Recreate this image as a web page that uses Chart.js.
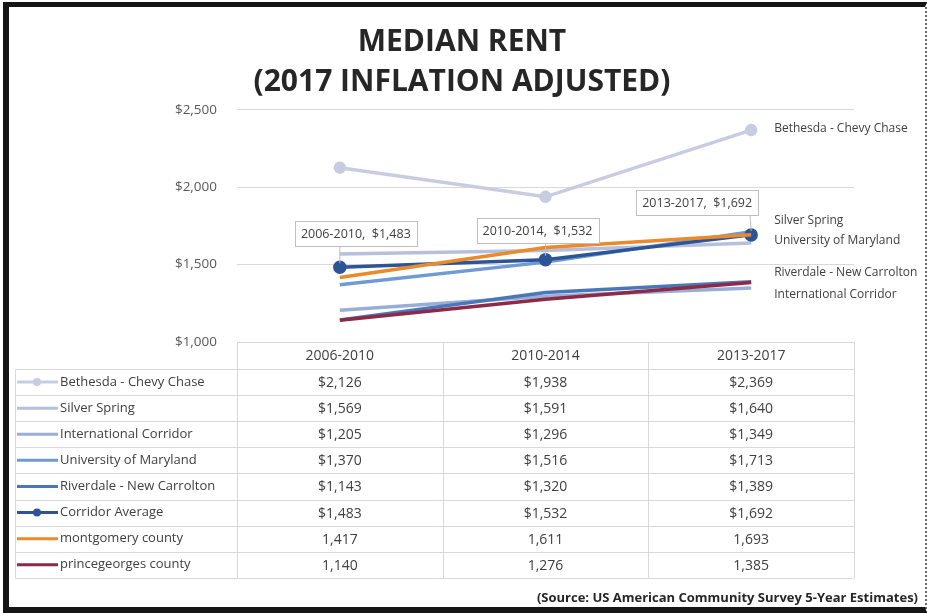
<!DOCTYPE html>
<html>
<head>
<meta charset="utf-8">
<title>Median Rent</title>
<script src="https://cdn.jsdelivr.net/npm/chart.js@4.4.0/dist/chart.umd.min.js"></script>
<style>
  html, body { margin: 0; padding: 0; background: #fff; }
  #wrap { position: relative; width: 929px; height: 613px; overflow: hidden; }
  #frame {
    position: absolute; left: 3px; top: 2px; right: 2px; bottom: 0;
    border-left: 6px solid #151515; border-top: 5px solid #151515;
    border-bottom: 6px solid #151515; border-right: 2px dotted #666;
    pointer-events: none;
  }
</style>
</head>
<body>
<div id="wrap">
  <canvas id="rentChart" width="929" height="613"></canvas>
  <div id="frame"></div>
</div>
<script>
// periods on the x axis and tick values on the y axis
const periods = ['2006-2010', '2010-2014', '2013-2017'];
const yTicks = [1000, 1500, 2000, 2500];

// median rent by area
const bethesda = [2126, 1938, 2369];
const silverSpring = [1569, 1591, 1640];
const intlCorridor = [1205, 1296, 1349];
const univMaryland = [1370, 1516, 1713];
const riverdale = [1143, 1320, 1389];
const corridorAverage = [1483, 1532, 1692];
const montgomery = [1417, 1611, 1693];
const princeGeorges = [1140, 1276, 1385];

const series = [
    { name: 'Bethesda - Chevy Chase', values: bethesda, color: '#c8cce0', marker: 4.5, dollar: true, endLabel: 'Bethesda - Chevy Chase', endDy: -2 },
    { name: 'Silver Spring', values: silverSpring, color: '#b6c0dd', dollar: true, endLabel: 'Silver Spring', endDy: -22 },
    { name: 'International Corridor', values: intlCorridor, color: '#98aed6', dollar: true, endLabel: 'International Corridor', endDy: 7 },
    { name: 'University of Maryland', values: univMaryland, color: '#6f9ad3', dollar: true, endLabel: 'University of Maryland', endDy: 9 },
    { name: 'Riverdale - New Carrolton', values: riverdale, color: '#4a77b8', dollar: true, endLabel: 'Riverdale - New Carrolton', endDy: -9 },
    { name: 'Corridor Average', values: corridorAverage, color: '#2d5496', marker: 5, dollar: true, callouts: true },
    { name: 'montgomery county', values: montgomery, color: '#e98a2c', dollar: false },
    { name: 'princegeorges county', values: princeGeorges, color: '#8c2a47', dollar: false }
];

const textColor = '#404040';
const fontFamily = "'Open Sans', 'Liberation Sans', sans-serif";

function money(value, dollar) {
    const s = value.toLocaleString('en-US');
    return dollar ? '$' + s : s;
}

// callout offsets for the corridor average labels (dx, dy from the point)
const calloutOffsets = [[16, -34], [-8, -29], [-54, -32]];

const labelsPlugin = {
    id: 'labelsPlugin',
    afterDatasetsDraw(chart) {
        const ctx = chart.ctx;
        ctx.save();
        series.forEach((s, i) => {
            const meta = chart.getDatasetMeta(i);
            if (s.endLabel) {
                const last = meta.data[meta.data.length - 1];
                ctx.font = `12px ${fontFamily}`;
                ctx.fillStyle = textColor;
                ctx.textAlign = 'left';
                ctx.textBaseline = 'middle';
                ctx.fillText(s.endLabel, last.x + 23, last.y + s.endDy);
            }
            if (s.callouts) {
                meta.data.forEach((pt, k) => {
                    const text = `${periods[k]},  ${money(s.values[k], true)}`;
                    ctx.font = `12.5px ${fontFamily}`;
                    const w = ctx.measureText(text).width + 12;
                    const h = 25;
                    const cx = pt.x + calloutOffsets[k][0];
                    const cy = pt.y + calloutOffsets[k][1];
                    ctx.strokeStyle = '#bfbfbf';
                    ctx.lineWidth = 1;
                    ctx.beginPath();
                    ctx.moveTo(Math.min(Math.max(pt.x, cx - w / 2 + 8), cx + w / 2 - 8), cy + h / 2);
                    ctx.lineTo(pt.x, pt.y - 4);
                    ctx.stroke();
                    ctx.fillStyle = '#ffffff';
                    ctx.fillRect(cx - w / 2, cy - h / 2, w, h);
                    ctx.strokeRect(Math.round(cx - w / 2) + 0.5, Math.round(cy - h / 2) + 0.5, Math.round(w), h);
                    ctx.fillStyle = textColor;
                    ctx.textAlign = 'center';
                    ctx.textBaseline = 'middle';
                    ctx.fillText(text, cx, cy + 1);
                });
            }
        });
        ctx.restore();
    }
};

const tablePlugin = {
    id: 'dataTable',
    afterDraw(chart) {
        const ctx = chart.ctx;
        const area = chart.chartArea;
        const xScale = chart.scales.x;
        const colW = (area.right - area.left) / periods.length;
        const headTop = area.bottom;
        const headBottom = headTop + 27;
        const rowH = 26.1;
        const tableLeft = 15;
        const tableBottom = headBottom + rowH * series.length;

        ctx.save();
        ctx.strokeStyle = '#d9d9d9';
        ctx.lineWidth = 1;
        ctx.beginPath();
        for (let i = 0; i <= series.length; i++) {
            const y = Math.round(headBottom + i * rowH) + 0.5;
            ctx.moveTo(tableLeft, y);
            ctx.lineTo(area.right, y);
        }
        for (let k = 0; k <= periods.length; k++) {
            const x = Math.round(area.left + k * colW) + 0.5;
            ctx.moveTo(x, headTop);
            ctx.lineTo(x, tableBottom);
        }
        ctx.moveTo(tableLeft + 0.5, headBottom);
        ctx.lineTo(tableLeft + 0.5, tableBottom);
        ctx.stroke();

        ctx.fillStyle = textColor;
        ctx.textBaseline = 'middle';
        ctx.textAlign = 'center';
        ctx.font = `14px ${fontFamily}`;
        periods.forEach((p, k) => {
            ctx.fillText(p, xScale.getPixelForValue(k), (headTop + headBottom) / 2 + 1);
        });

        series.forEach((s, i) => {
            const cy = headBottom + rowH * (i + 0.5);
            ctx.strokeStyle = s.color;
            ctx.lineWidth = 3;
            ctx.beginPath();
            ctx.moveTo(17, cy);
            ctx.lineTo(58, cy);
            ctx.stroke();
            if (s.marker) {
                ctx.fillStyle = s.color;
                ctx.beginPath();
                ctx.arc(37, cy, 4, 0, Math.PI * 2);
                ctx.fill();
            }
            ctx.fillStyle = textColor;
            ctx.textAlign = 'left';
            ctx.font = `13px ${fontFamily}`;
            ctx.fillText(s.name, 60, cy);
            ctx.textAlign = 'center';
            ctx.font = `14px ${fontFamily}`;
            s.values.forEach((v, k) => {
                ctx.fillText(money(v, s.dollar), xScale.getPixelForValue(k), cy + 1);
            });
        });

        ctx.font = `bold 13px ${fontFamily}`;
        ctx.fillStyle = '#262626';
        ctx.textAlign = 'right';
        ctx.fillText('(Source: US American Community Survey 5-Year Estimates)', 918, 598);
        ctx.restore();
    }
};

const ctx = document.getElementById('rentChart').getContext('2d');
new Chart(ctx, {
    type: 'line',
    data: {
        labels: periods,
        datasets: series.map((s, i) => ({
            label: s.name,
            data: s.values,
            borderColor: s.color,
            backgroundColor: s.color,
            borderWidth: 3.5,
            pointRadius: s.marker || 0,
            pointBackgroundColor: s.color,
            pointBorderColor: s.color,
            tension: 0,
            order: series.length - i
        }))
    },
    options: {
        responsive: false,
        animation: false,
        layout: {
            padding: { left: 70, right: 75, top: 12, bottom: 271 }
        },
        scales: {
            x: {
                display: false,
                offset: true
            },
            y: {
                min: 1000,
                max: 2500,
                afterBuildTicks: (axis) => {
                    axis.ticks = yTicks.map((v) => ({ value: v }));
                },
                afterFit: (axis) => {
                    axis.width = 167;
                },
                border: { display: false },
                grid: {
                    color: '#d9d9d9',
                    drawTicks: false
                },
                ticks: {
                    padding: 20,
                    color: '#595959',
                    font: { family: fontFamily, size: 13.5 },
                    callback: (value) => '$' + Number(value).toLocaleString('en-US')
                }
            }
        },
        plugins: {
            legend: { display: false },
            tooltip: { enabled: false },
            title: {
                display: true,
                text: ['MEDIAN RENT', '(2017 INFLATION ADJUSTED)'],
                color: '#262626',
                font: { family: fontFamily, size: 30, weight: 'bold', lineHeight: 1.33 },
                padding: { top: 11, bottom: 7 }
            }
        }
    },
    plugins: [labelsPlugin, tablePlugin]
});
</script>
</body>
</html>
